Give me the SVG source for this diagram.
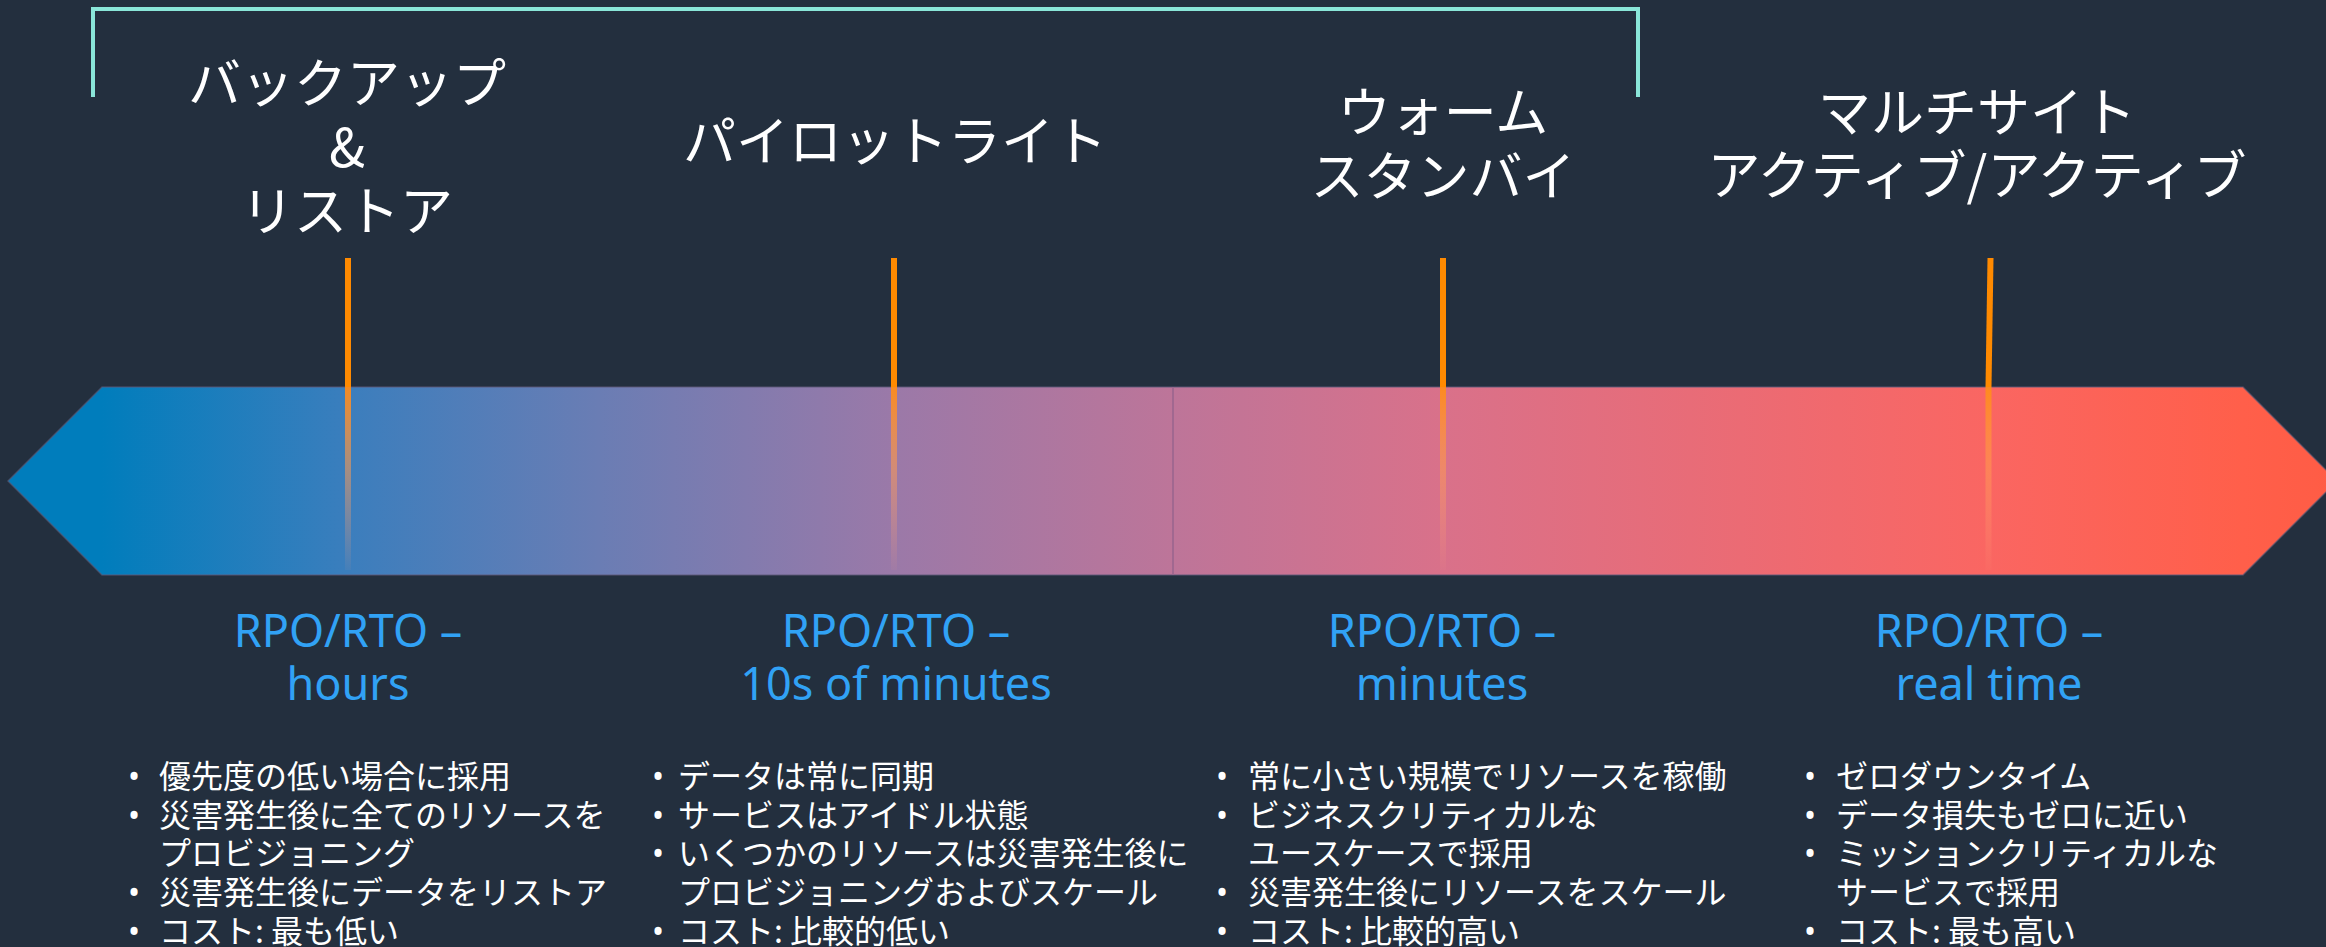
<svg xmlns="http://www.w3.org/2000/svg" width="2326" height="947" viewBox="0 0 2326 947">
<defs>
<linearGradient id="barGrad" gradientUnits="userSpaceOnUse" x1="8" y1="0" x2="2334" y2="0">
<stop offset="0" stop-color="#007dbc"/>
<stop offset="0.040" stop-color="#007dbc"/>
<stop offset="0.146" stop-color="#3b7ebd"/>
<stop offset="0.254" stop-color="#6a7db4"/>
<stop offset="0.381" stop-color="#9b79a8"/>
<stop offset="0.501" stop-color="#bd7599"/>
<stop offset="0.617" stop-color="#d9718a"/>
<stop offset="0.851" stop-color="#fa6662"/>
<stop offset="0.961" stop-color="#ff5f4a"/>
<stop offset="1" stop-color="#ff5c45"/>
</linearGradient>
<linearGradient id="fade" x1="0" y1="0" x2="0" y2="1">
<stop offset="0" stop-color="#ff8c1a" stop-opacity="0.95"/>
<stop offset="0.45" stop-color="#ff9a50" stop-opacity="0.55"/>
<stop offset="1" stop-color="#ffa080" stop-opacity="0.05"/>
</linearGradient>
<style>
.bg{fill:#232f3e}
.title{font-family:"Noto Sans CJK JP","Noto Sans",sans-serif;font-size:53px;font-weight:400;fill:#ffffff;text-anchor:middle}
.lbl{font-family:"Noto Sans","Noto Sans CJK JP",sans-serif;font-size:45px;fill:#31a2f5;text-anchor:middle}
.bul{font-family:"Noto Sans CJK JP","Noto Sans",sans-serif;font-size:32px;fill:#ffffff}
.dot{font-family:"Noto Sans",sans-serif;font-size:32px;fill:#ffffff}
.mk{fill:#ff8a00}
.mkf{fill:url(#fade)}
.bracket{fill:none;stroke:#8ae6d9;stroke-width:4}
</style>
</defs>
<rect class="bg" x="0" y="0" width="2326" height="947"/>

<g id="bracket">
<polyline class="bracket" points="93,97 93,9 1638,9 1638,97"/>
</g>

<g id="bar">
<polygon points="8,481 102,387 2243,387 2337,481 2243,575 102,575" fill="url(#barGrad)" stroke="#5e5a78" stroke-opacity="0.6" stroke-width="1.5"/>
<line x1="1173" y1="387" x2="1173" y2="575" stroke="#99648e" stroke-width="1.5"/>
</g>

<g id="col-backup">
<text class="title" x="347" y="103">バックアップ</text>
<text class="title" x="347" y="167">&amp;</text>
<text class="title" x="347" y="231">リストア</text>
<rect class="mk" x="345" y="258" width="6" height="129"/>
<rect class="mkf" x="345" y="387" width="6" height="183"/>
<text class="lbl" x="348" y="647">RPO/RTO –</text>
<text class="lbl" x="348" y="700">hours</text>
<g class="dot">
<text x="128" y="788">•</text>
<text x="128" y="826.7">•</text>
<text x="128" y="904">•</text>
<text x="128" y="942.8">•</text>
</g>
<g class="bul">
<text x="159" y="788">優先度の低い場合に採用</text>
<text x="159" y="826.7">災害発生後に全てのリソースを</text>
<text x="159" y="865.4">プロビジョニング</text>
<text x="159" y="904">災害発生後にデータをリストア</text>
<text x="159" y="942.8">コスト: 最も低い</text>
</g>
</g>

<g id="col-pilot">
<text class="title" x="895" y="161">パイロットライト</text>
<rect class="mk" x="891" y="258" width="6" height="129"/>
<rect class="mkf" x="891" y="387" width="6" height="183"/>
<text class="lbl" x="896" y="647">RPO/RTO –</text>
<text class="lbl" x="896" y="700">10s of minutes</text>
<g class="dot">
<text x="652" y="788">•</text>
<text x="652" y="826.7">•</text>
<text x="652" y="865.4">•</text>
<text x="652" y="942.8">•</text>
</g>
<g class="bul">
<text x="678" y="788">データは常に同期</text>
<text x="678" y="826.7">サービスはアイドル状態</text>
<text x="678" y="865.4">いくつかのリソースは災害発生後に</text>
<text x="678" y="904">プロビジョニングおよびスケール</text>
<text x="678" y="942.8">コスト: 比較的低い</text>
</g>
</g>

<g id="col-warm">
<text class="title" x="1443" y="132">ウォーム</text>
<text class="title" x="1443" y="196">スタンバイ</text>
<rect class="mk" x="1440" y="258" width="6" height="129"/>
<rect class="mkf" x="1440" y="387" width="6" height="183"/>
<text class="lbl" x="1442" y="647">RPO/RTO –</text>
<text class="lbl" x="1442" y="700">minutes</text>
<g class="dot">
<text x="1216" y="788">•</text>
<text x="1216" y="826.7">•</text>
<text x="1216" y="904">•</text>
<text x="1216" y="942.8">•</text>
</g>
<g class="bul">
<text x="1248" y="788">常に小さい規模でリソースを稼働</text>
<text x="1248" y="826.7">ビジネスクリティカルな</text>
<text x="1248" y="865.4">ユースケースで採用</text>
<text x="1248" y="904">災害発生後にリソースをスケール</text>
<text x="1248" y="942.8">コスト: 比較的高い</text>
</g>
</g>

<g id="col-multi">
<text class="title" x="1977" y="132">マルチサイト</text>
<text class="title" x="1977" y="195">アクティブ/アクティブ</text>
<polygon class="mk" points="1987.5,258 1993.5,258 1991.5,387 1985.5,387"/>
<rect class="mkf" x="1985.5" y="387" width="6" height="183"/>
<text class="lbl" x="1989" y="647">RPO/RTO –</text>
<text class="lbl" x="1989" y="700">real time</text>
<g class="dot">
<text x="1804" y="788">•</text>
<text x="1804" y="826.7">•</text>
<text x="1804" y="865.4">•</text>
<text x="1804" y="942.8">•</text>
</g>
<g class="bul">
<text x="1836" y="788">ゼロダウンタイム</text>
<text x="1836" y="826.7">データ損失もゼロに近い</text>
<text x="1836" y="865.4">ミッションクリティカルな</text>
<text x="1836" y="904">サービスで採用</text>
<text x="1836" y="942.8">コスト: 最も高い</text>
</g>
</g>
</svg>
